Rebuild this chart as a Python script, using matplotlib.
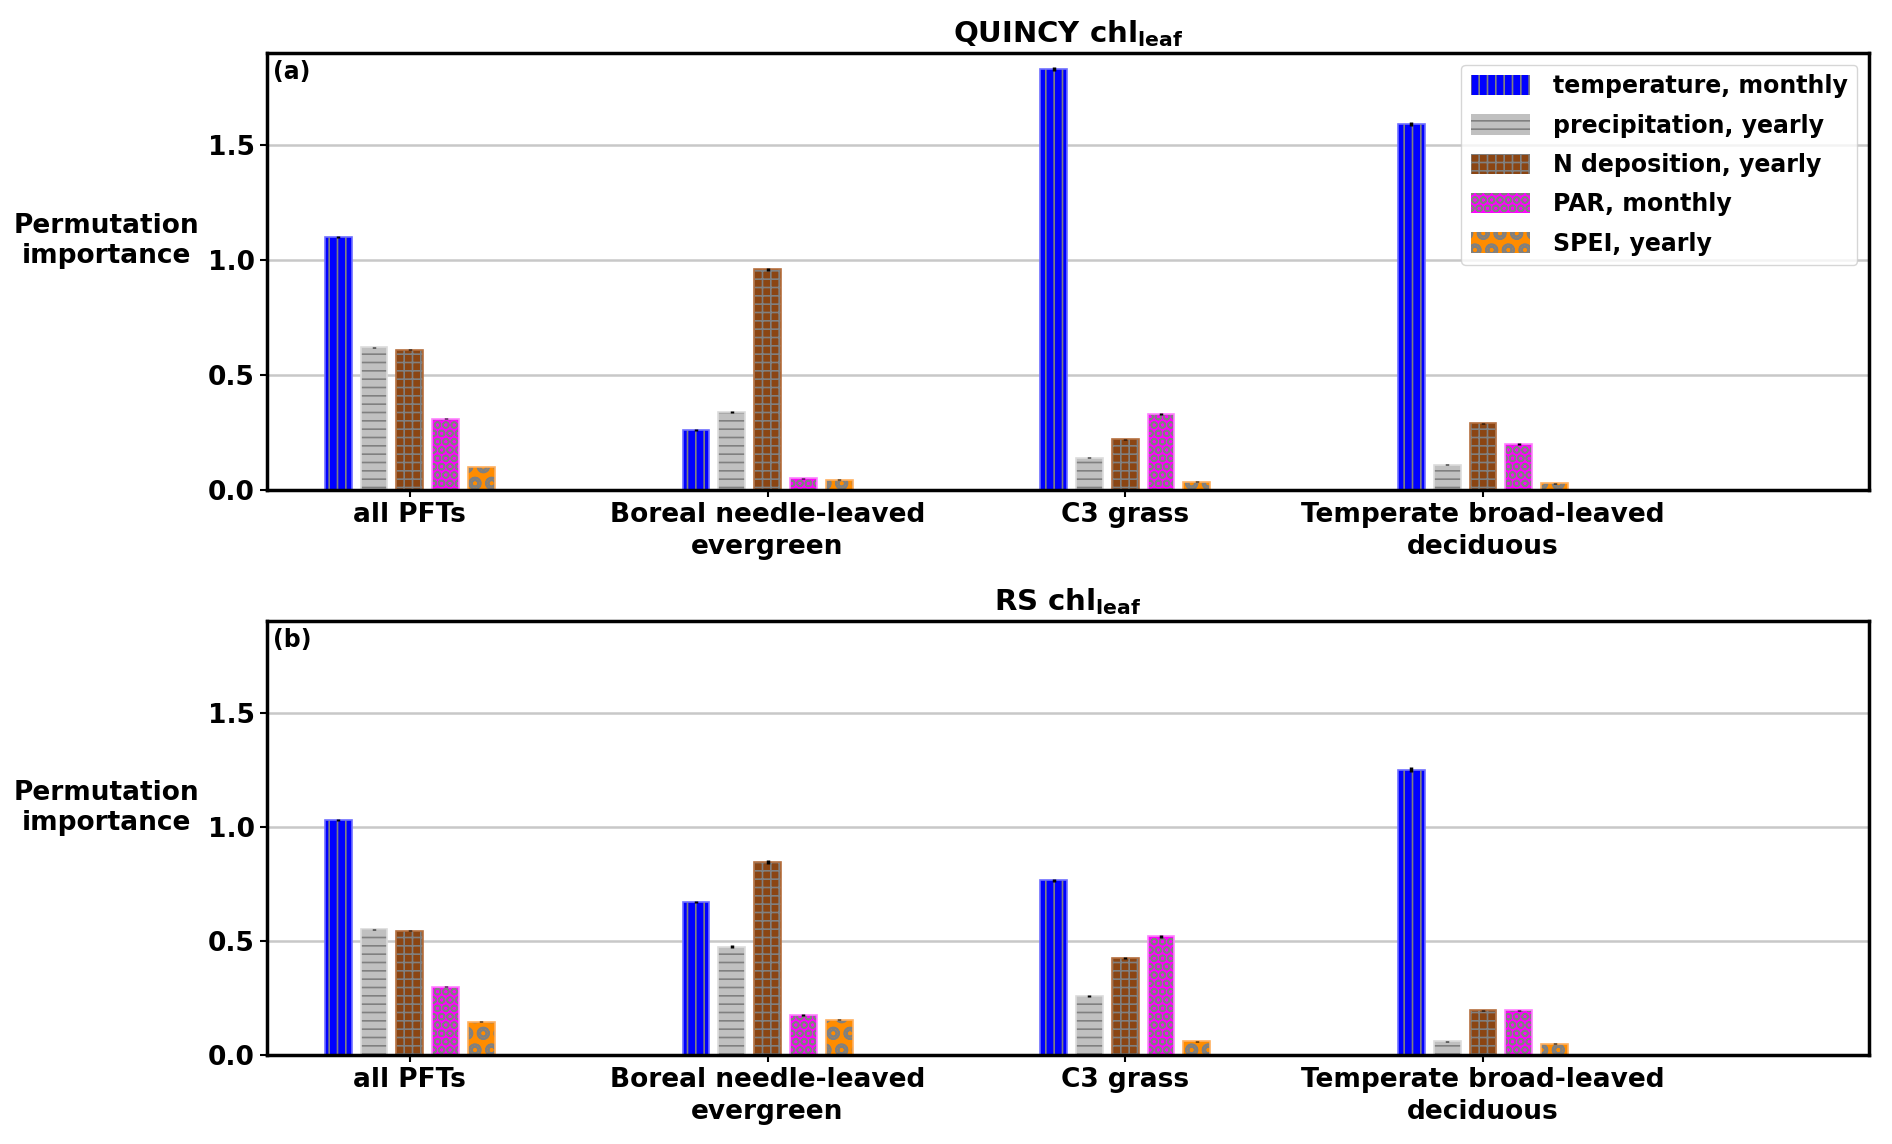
import numpy as np
import matplotlib.pyplot as plt

plt.rcParams['font.family'] = ['DejaVu Sans']
plt.rcParams['font.weight'] = 'bold'
plt.rcParams['hatch.color'] = 'gray'
plt.rcParams['hatch.linewidth'] = 1.2
plt.rcParams['mathtext.fontset'] = 'custom'
plt.rcParams['mathtext.bf'] = 'DejaVu Sans:bold'

# Data
groups = ['all PFTs', 'Boreal needle-leaved\nevergreen', 'C3 grass',
          'Temperate broad-leaved\ndeciduous']
drivers = ['temperature, monthly', 'precipitation, yearly', 'N deposition, yearly',
           'PAR, monthly', 'SPEI, yearly']
colors = ['#0000ff', '#c0c0c0', '#8b4513', '#ff00ff', '#ff8c00']
edge_colors = ['#6f6fff', '#dcdcdc', '#b5703f', '#ff80ff', '#ffb060']
hatches = ['||', '--', '++', 'OO', 'Oo']

# rows: drivers, columns: groups
quincy = np.array([
    [1.10, 0.26, 1.83, 1.59],
    [0.62, 0.34, 0.14, 0.11],
    [0.61, 0.96, 0.22, 0.29],
    [0.31, 0.05, 0.33, 0.20],
    [0.10, 0.045, 0.035, 0.03],
])
quincy_err = np.array([
    [0.004, 0.004, 0.008, 0.008],
    [0.003, 0.004, 0.003, 0.003],
    [0.003, 0.006, 0.003, 0.003],
    [0.003, 0.002, 0.004, 0.003],
    [0.002, 0.002, 0.002, 0.002],
])
rs = np.array([
    [1.03, 0.67, 0.765, 1.25],
    [0.55, 0.475, 0.26, 0.06],
    [0.545, 0.845, 0.425, 0.195],
    [0.30, 0.175, 0.52, 0.195],
    [0.145, 0.155, 0.06, 0.05],
])
rs_err = np.array([
    [0.004, 0.006, 0.005, 0.012],
    [0.003, 0.006, 0.004, 0.003],
    [0.003, 0.008, 0.006, 0.003],
    [0.003, 0.003, 0.006, 0.003],
    [0.002, 0.002, 0.002, 0.002],
])

titles = [r'QUINCY chl$_{\mathbf{leaf}}$', r'RS chl$_{\mathbf{leaf}}$']
panel_labels = ['(a)', '(b)']

fig = plt.figure(figsize=(18.92, 11.44), dpi=100)
ax1 = fig.add_axes([0.141, 0.5717, 0.847, 0.382])
ax2 = fig.add_axes([0.141, 0.0778, 0.847, 0.379])

x = np.arange(len(groups))
width = 0.075
offsets = [-0.2, -0.1, 0.0, 0.1, 0.2]

for ax, vals, errs, title, lab in zip([ax1, ax2], [quincy, rs], [quincy_err, rs_err],
                                      titles, panel_labels):
    ax.set_axisbelow(True)
    ax.yaxis.grid(True, color='#c8c8c8', lw=1.8)
    handles = []
    for i in range(len(drivers)):
        b = ax.bar(x + offsets[i], vals[i], width, color=colors[i], edgecolor='gray',
                   hatch=hatches[i], linewidth=0, label=drivers[i])
        ax.bar(x + offsets[i], vals[i], width, fill=False, edgecolor=edge_colors[i],
               linewidth=1.2)
        ax.errorbar(x + offsets[i], vals[i], yerr=errs[i], fmt='none', ecolor='black',
                    elinewidth=2.5)
        handles.append(b)
    ax.set_xlim(-0.4, 4.08)
    ax.set_ylim(0, 1.9)
    ax.set_yticks([0.0, 0.5, 1.0, 1.5])
    ax.set_yticklabels(['0.0', '0.5', '1.0', '1.5'])
    ax.set_xticks(x)
    ax.set_xticklabels(groups, linespacing=1.3)
    ax.tick_params(axis='both', labelsize=19, width=1.5, length=5)
    for s in ax.spines.values():
        s.set_linewidth(2.5)
    ax.set_title(title, fontsize=21, fontweight='bold', pad=8)
    ax.set_ylabel('Permutation\nimportance', fontsize=19, fontweight='bold', rotation=0,
                  ha='center', va='center', linespacing=1.2)
    ax.yaxis.set_label_coords(-0.1, 0.57)
    ax.text(0.004, 0.985, lab, transform=ax.transAxes, ha='left', va='top',
            fontsize=17, fontweight='bold')

leg = ax1.legend(handles=handles, loc='upper right', fontsize=17, handlelength=2.5,
                 handleheight=0.95, labelspacing=0.65, handletextpad=1.0,
                 borderaxespad=0.5, framealpha=0.8)

fig.savefig('out.png', dpi=100)
